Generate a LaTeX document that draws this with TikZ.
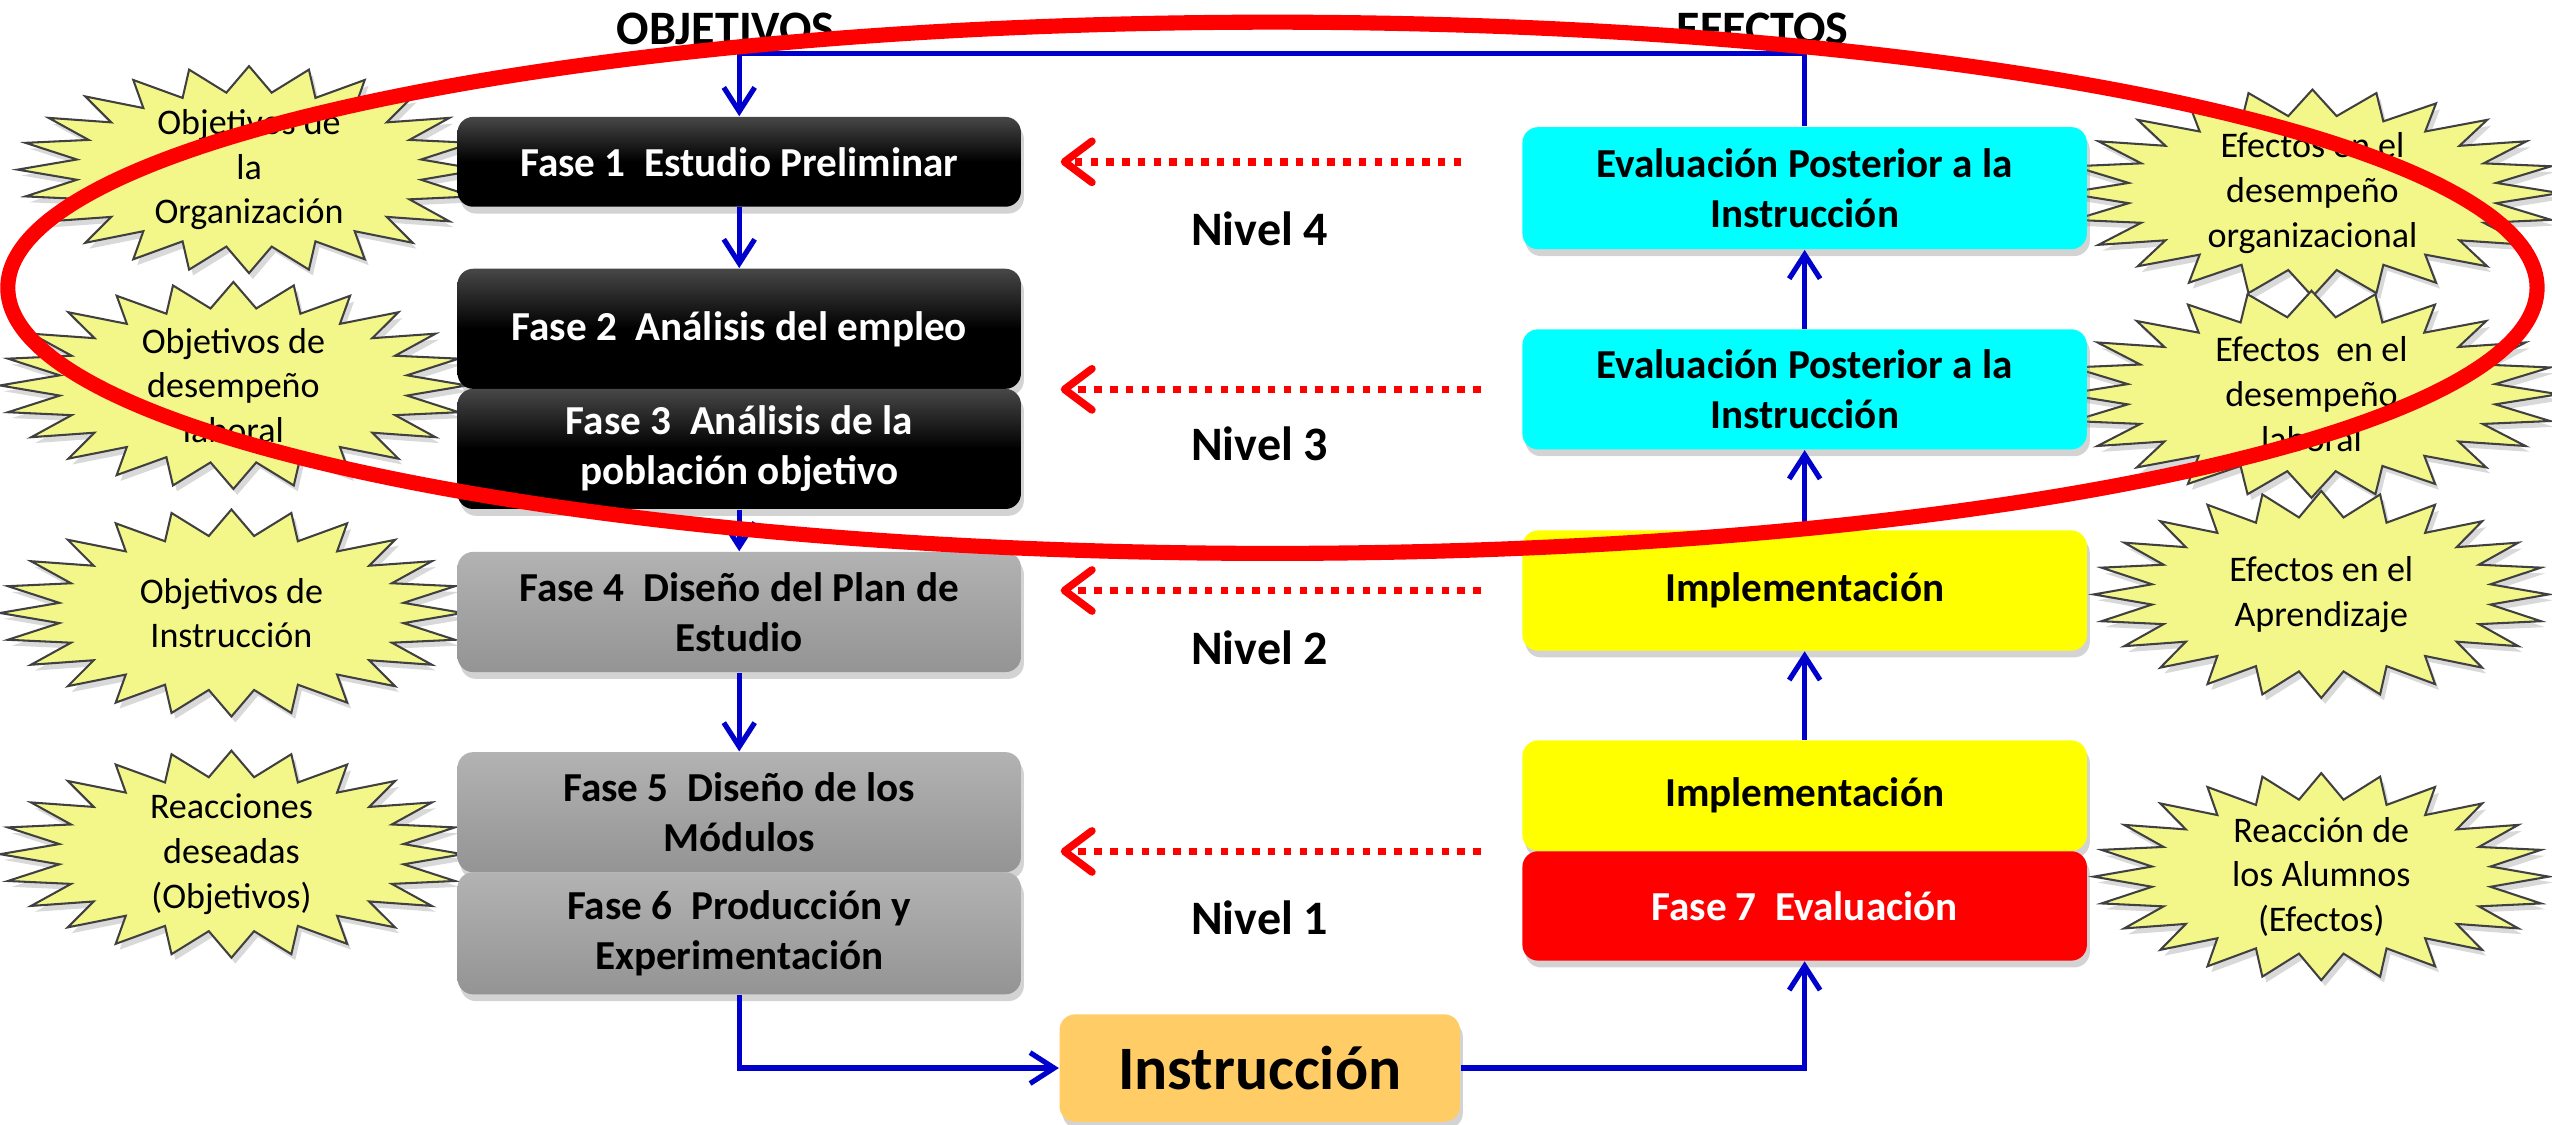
\documentclass[tikz,border=0pt]{standalone}
\usepackage{fontspec}
\setmainfont{Carlito}
\usetikzlibrary{arrows.meta,shadows}
\definecolor{burstfill}{RGB}{243,247,138}
\definecolor{flowblue}{RGB}{0,0,204}
\definecolor{instrfill}{RGB}{255,204,102}
\definecolor{evalcyan}{RGB}{0,255,255}
\definecolor{implyellow}{RGB}{255,255,0}
\definecolor{fasered}{RGB}{255,0,0}
\newcommand\estrella[5]{%
  \draw[burst, shift={(#2,#3)}, xscale=#4, yscale=1.06] (90:1)
    \foreach \i in {1,...,47}{ -- ({90+7.5*\i}:{1-.25*mod(\i,2)})} -- cycle;
  \node[bursttext] (#1) at (#2,#3) {#5};}
\begin{document}
\begin{tikzpicture}[
  flow/.style={draw=flowblue, line width=1.5pt, -{Straight Barb[length=7pt,width=9pt]}},
  nivel/.style={draw=fasered, line width=2.2pt, dash pattern=on 2.2pt off 2.4pt, -{Straight Barb[length=8pt,width=12pt,round]}},
  fase/.style={rounded corners=1.6mm, minimum width=5.77cm, align=center, inner sep=2pt,
    font=\fontsize{12}{14.6}\selectfont\bfseries,
    drop shadow={shadow xshift=.3mm, shadow yshift=-.7mm, opacity=.35}},
  oscura/.style={fase, text=white, top color=black!72, bottom color=black, middle color=black},
  gris/.style={fase, top color=black!30, bottom color=black!42},
  efecto/.style={fase, minimum width=5.78cm},
  burst/.style={fill=burstfill, draw=black!75, line width=.6pt,
    drop shadow={shadow xshift=.4mm, shadow yshift=-.6mm, opacity=.3}},
  bursttext/.style={align=center, font=\fontsize{10.5}{13}\selectfont},
  titulo/.style={font=\fontsize{14}{16}\selectfont\bfseries}]
\useasboundingbox (0,0) rectangle (26.133,11.517);

\estrella{o1}{2.55}{9.78}{2.37}{Objetivos de\\la\\Organización}
\estrella{o2}{2.39}{7.57}{2.39}{Objetivos de\\desempeño\\laboral}
\estrella{o3}{2.37}{5.24}{2.37}{Objetivos de\\Instrucción}
\estrella{o4}{2.37}{2.77}{2.37}{Reacciones\\deseadas\\(Objetivos)}
\estrella{r1}{23.68}{9.54}{2.53}{Efectos en el\\desempeño\\organizacional}
\estrella{r2}{23.67}{7.48}{2.53}{Efectos\ \ en el\\desempeño\\laboral}
\estrella{r3}{23.77}{5.43}{2.33}{Efectos en el\\Aprendizaje}
\estrella{r4}{23.77}{2.54}{2.33}{Reacción de\\los Alumnos\\(Efectos)}

\node[oscura, minimum height=.92cm] (f1) at (7.57,9.86) {Fase 1\ \ Estudio Preliminar};
\node[oscura, minimum height=1.23cm] (f2) at (7.57,8.15) {Fase 2\ \ Análisis del empleo};
\node[oscura, minimum height=1.23cm] (f3) at (7.57,6.92) {Fase 3\ \ Análisis de la\\población objetivo};
\node[gris, minimum height=1.23cm] (f4) at (7.57,5.25) {Fase 4\ \ Diseño del Plan de\\Estudio};
\node[gris, minimum height=1.23cm] (f5) at (7.57,3.2) {Fase 5\ \ Diseño de los\\Módulos};
\node[gris, minimum height=1.25cm] (f6) at (7.57,1.96) {Fase 6\ \ Producción y\\Experimentación};

\node[efecto, fill=evalcyan, minimum height=1.25cm] (e4) at (18.48,9.59) {Evaluación Posterior a la\\Instrucción};
\node[efecto, fill=evalcyan, minimum height=1.23cm] (e3) at (18.48,7.53) {Evaluación Posterior a la\\Instrucción};
\node[efecto, fill=implyellow, minimum height=1.23cm] (i2) at (18.48,5.47) {Implementación};
\node[efecto, fill=implyellow, minimum height=1.13cm] (i1) at (18.48,3.37) {Implementación};
\node[efecto, fill=fasered, text=white, minimum height=1.12cm] (f7) at (18.48,2.24) {Fase 7\ \ Evaluación};
\node[fase, fill=instrfill, minimum width=4.1cm, minimum height=1.1cm,
  font=\fontsize{18}{20}\selectfont\bfseries] (instr) at (12.9,.58) {Instrucción};

\node[titulo] (obj) at (7.43,11.22) {OBJETIVOS};
\node[titulo] (efe) at (18.05,11.22) {EFECTOS};
\node[titulo] (n4) at (12.9,9.17) {Nivel 4};
\node[titulo] (n3) at (12.9,6.97) {Nivel 3};
\node[titulo] (n2) at (12.9,4.88) {Nivel 2};
\node[titulo] (n1) at (12.9,2.12) {Nivel 1};

\coordinate (arriba) at (13,10.97);
\draw[flow] (e4.north) |- (arriba) -| (f1.north);
\draw[flow] (f1.south) -- (f2.north);
\draw[flow] (f3.south) -- (f4.north);
\draw[flow] (f4.south) -- (f5.north);
\draw[flow] (f6.south) |- (instr.west);
\draw[flow] (instr.east) -| (f7.south);
\draw[flow] (i1.north) -- (i2.south);
\draw[flow] (i2.north) -- (e3.south);
\draw[flow] (e3.north) -- (e4.south);

\draw[nivel, shorten <=.62cm, shorten >=.4cm] (f1.east -| e4.west) -- (f1.east);
\draw[nivel, shorten <=.42cm, shorten >=.4cm] (e3.west) -- (e3.west -| f2.east);
\draw[nivel, shorten <=.42cm, shorten >=.4cm] (i2.west) -- (i2.west -| f4.east);
\draw[nivel, shorten <=.42cm, shorten >=.4cm] (i1.south west) -- (i1.south west -| f5.east);

\draw[fasered, line width=4.4pt] (13.03,8.57) ellipse [x radius=12.95, y radius=2.72];
\end{tikzpicture}
\end{document}
